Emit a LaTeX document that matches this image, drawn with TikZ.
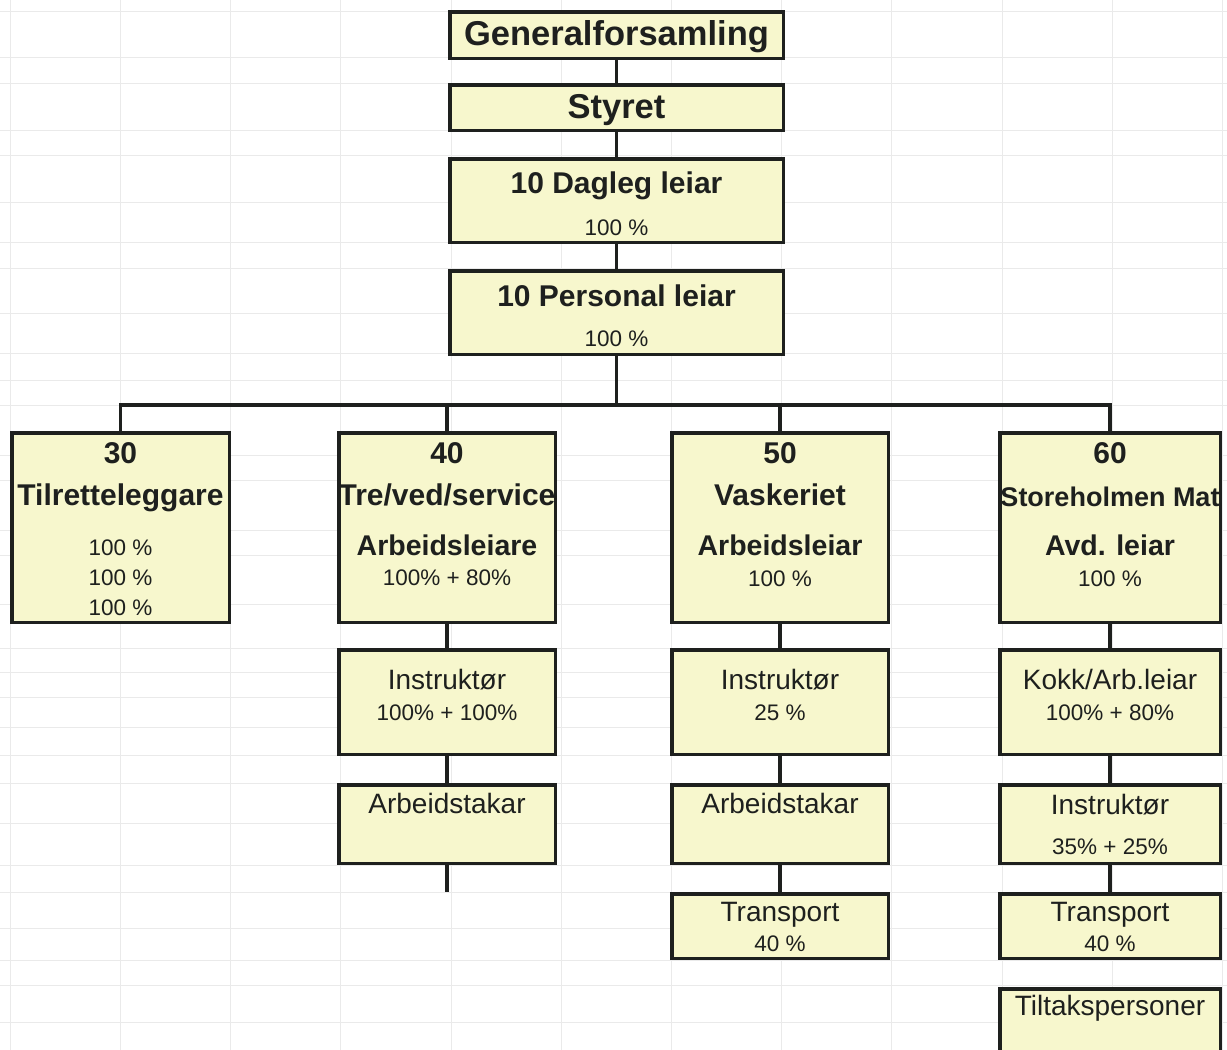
\documentclass[tikz,border=0pt]{standalone}
\usepackage{fontspec}
\setmainfont{Liberation Sans}
\usetikzlibrary{calc,positioning}
\definecolor{boxfill}{RGB}{247,247,205}
\definecolor{ink}{RGB}{30,32,30}
\definecolor{gridline}{RGB}{234,234,234}
\newcommand\fTitle{\fontsize{34.5}{38}\selectfont\bfseries}
\newcommand\fHead{\fontsize{30}{34}\selectfont\bfseries}
\newcommand\fRole{\fontsize{28.5}{32}\selectfont\bfseries}
\newcommand\fLabel{\fontsize{28}{32}\selectfont}
\newcommand\fPct{\fontsize{22.5}{26}\selectfont}
\begin{document}
\begin{tikzpicture}[x=1pt,y=1pt,
  every node/.style={align=center,inner sep=0pt,text=ink},
  box/.style={draw=ink,line width=3.5pt,fill=boxfill,minimum width=216.5pt},
  conn/.style={draw=ink,line width=3.5pt},
  lbl/.style={anchor=base}]
\fill [white] (0,0) rectangle (1227,-1050);
\useasboundingbox (0,0) rectangle (1227,-1050);
\foreach \i in {0,...,11}
  \draw [gridline,line width=0.6pt] ({10+110.2*\i},0) -- ++(0,-1050);
\foreach \y in {11,57,83,130,155,202,242,268,313,353,380,405,455,480,530,555,604,648,672,697,727,755,783,823,865,892,928,960,985,1022}
  \draw [gridline,line width=0.6pt] (0,-\y) -- ++(1227,0);

\node [box,minimum width=333.5,minimum height=46.5] (Generalforsamling) at (616.5,-35) {};
\node [lbl,font=\fTitle] (GeneralforsamlingField1) at ($(Generalforsamling.north)+(0,-35)$) {Generalforsamling};
\node [box,minimum width=333.5,minimum height=45.5] (Styret) at (616.5,-107.5) {};
\node [lbl,font=\fTitle] (StyretField1) at ($(Styret.north)+(0,-35)$) {Styret};
\node [box,minimum width=333.5,minimum height=83.5] (DaglegLeiar) at (616.5,-200.5) {};
\node [lbl,font=\fHead] (DaglegLeiarField1) at ($(DaglegLeiar.north)+(0,-36)$) {10 Dagleg leiar};
\node [lbl,font=\fPct] (DaglegLeiarField2) at ($(DaglegLeiar.north)+(0,-78)$) {100 \%};
\node [box,minimum width=333.5,minimum height=83.5] (PersonalLeiar) at (616.5,-312.5) {};
\node [lbl,font=\fHead] (PersonalLeiarField1) at ($(PersonalLeiar.north)+(0,-37)$) {10 Personal leiar};
\node [lbl,font=\fPct] (PersonalLeiarField2) at ($(PersonalLeiar.north)+(0,-77)$) {100 \%};

\node [box,minimum width=217.5,minimum height=189.5] (Avd30) at (120.5,-527.5) {};
\node [lbl,font=\fHead] (Avd30Field1) at ($(Avd30.north)+(0,-32)$) {30};
\node [lbl,font=\fHead] (Avd30Field2) at ($(Avd30.north)+(0,-74)$) {Tilretteleggare};
\node [lbl,font=\fPct] (Avd30Field3) at ($(Avd30.north)+(0,-124)$) {100 \%};
\node [lbl,font=\fPct] (Avd30Field4) at ($(Avd30.north)+(0,-154)$) {100 \%};
\node [lbl,font=\fPct] (Avd30Field5) at ($(Avd30.north)+(0,-184)$) {100 \%};

\node [box,minimum height=189.5] (Avd40) at (447,-527.5) {};
\node [lbl,font=\fHead] (Avd40Field1) at ($(Avd40.north)+(0,-32)$) {40};
\node [lbl,font=\fHead] (Avd40Field2) at ($(Avd40.north)+(0,-74)$) {Tre/ved/service};
\node [lbl,font=\fRole] (Avd40Field3) at ($(Avd40.north)+(0,-124)$) {Arbeidsleiare};
\node [lbl,font=\fPct] (Avd40Field4) at ($(Avd40.north)+(0,-154)$) {100\% + 80\%};
\node [box,minimum height=104.5] (Instruktor40) at (447,-702) {};
\node [lbl,font=\fLabel] (Instruktor40Field1) at ($(Instruktor40.north)+(0,-41)$) {Instruktør};
\node [lbl,font=\fPct] (Instruktor40Field2) at ($(Instruktor40.north)+(0,-72)$) {100\% + 100\%};
\node [box,minimum height=78.5] (Arbeidstakar40) at (447,-824) {};
\node [lbl,font=\fLabel] (Arbeidstakar40Field1) at ($(Arbeidstakar40.north)+(0,-30)$) {Arbeidstakar};
\coordinate (End40) at (447,-892);

\node [box,minimum height=189.5] (Avd50) at (780,-527.5) {};
\node [lbl,font=\fHead] (Avd50Field1) at ($(Avd50.north)+(0,-32)$) {50};
\node [lbl,font=\fHead] (Avd50Field2) at ($(Avd50.north)+(0,-74)$) {Vaskeriet};
\node [lbl,font=\fRole] (Avd50Field3) at ($(Avd50.north)+(0,-124)$) {Arbeidsleiar};
\node [lbl,font=\fPct] (Avd50Field4) at ($(Avd50.north)+(0,-155)$) {100 \%};
\node [box,minimum height=104.5] (Instruktor50) at (780,-702) {};
\node [lbl,font=\fLabel] (Instruktor50Field1) at ($(Instruktor50.north)+(0,-41)$) {Instruktør};
\node [lbl,font=\fPct] (Instruktor50Field2) at ($(Instruktor50.north)+(0,-72)$) {25 \%};
\node [box,minimum height=78.5] (Arbeidstakar50) at (780,-824) {};
\node [lbl,font=\fLabel] (Arbeidstakar50Field1) at ($(Arbeidstakar50.north)+(0,-30)$) {Arbeidstakar};
\node [box,minimum height=64.5] (Transport50) at (780,-926) {};
\node [lbl,font=\fLabel] (Transport50Field1) at ($(Transport50.north)+(0,-29)$) {Transport};
\node [lbl,font=\fPct] (Transport50Field2) at ($(Transport50.north)+(0,-59)$) {40 \%};

\node [box,minimum width=220.5,minimum height=189.5] (Avd60) at (1110,-527.5) {};
\node [lbl,font=\fHead] (Avd60Field1) at ($(Avd60.north)+(0,-32)$) {60};
\node [lbl,font=\fontsize{27}{30}\selectfont\bfseries] (Avd60Field2) at ($(Avd60.north)+(0,-75)$) {Storeholmen Mat};
\node [lbl,font=\fRole] (Avd60Field3) at ($(Avd60.north)+(0,-124)$) {Avd. leiar};
\node [lbl,font=\fPct] (Avd60Field4) at ($(Avd60.north)+(0,-155)$) {100 \%};
\node [box,minimum width=220.5,minimum height=104.5] (Kokk60) at (1110,-702) {};
\node [lbl,font=\fLabel] (Kokk60Field1) at ($(Kokk60.north)+(0,-41)$) {Kokk/Arb.leiar};
\node [lbl,font=\fPct] (Kokk60Field2) at ($(Kokk60.north)+(0,-72)$) {100\% + 80\%};
\node [box,minimum width=220.5,minimum height=78.5] (Instruktor60) at (1110,-824) {};
\node [lbl,font=\fLabel] (Instruktor60Field1) at ($(Instruktor60.north)+(0,-31)$) {Instruktør};
\node [lbl,font=\fPct] (Instruktor60Field2) at ($(Instruktor60.north)+(0,-71)$) {35\% + 25\%};
\node [box,minimum width=220.5,minimum height=64.5] (Transport60) at (1110,-926) {};
\node [lbl,font=\fLabel] (Transport60Field1) at ($(Transport60.north)+(0,-29)$) {Transport};
\node [lbl,font=\fPct] (Transport60Field2) at ($(Transport60.north)+(0,-59)$) {40 \%};
\node [box,minimum width=220.5,minimum height=84.5] (Tiltakspersoner) at (1110,-1031) {};
\node [lbl,font=\fLabel] (TiltakspersonerField1) at ($(Tiltakspersoner.north)+(0,-28)$) {Tiltakspersoner};

\foreach \a/\b in {Generalforsamling/Styret,Styret/DaglegLeiar,DaglegLeiar/PersonalLeiar,
  Avd40/Instruktor40,Instruktor40/Arbeidstakar40,Arbeidstakar40/End40,
  Avd50/Instruktor50,Instruktor50/Arbeidstakar50,Arbeidstakar50/Transport50,
  Avd60/Kokk60,Kokk60/Instruktor60,Instruktor60/Transport60}
  \draw [conn] (\a) -- (\b);
\coordinate (Bus) at (0,-405);
\draw [conn] (PersonalLeiar.south) -- (PersonalLeiar.south |- Bus);
\draw [conn] (Avd30.north) -- (Avd30.north |- Bus) -- (Avd60.north |- Bus) -- (Avd60.north);
\foreach \n in {Avd40,Avd50}
  \draw [conn] (\n.north) -- (\n.north |- Bus);
\end{tikzpicture}
\end{document}
